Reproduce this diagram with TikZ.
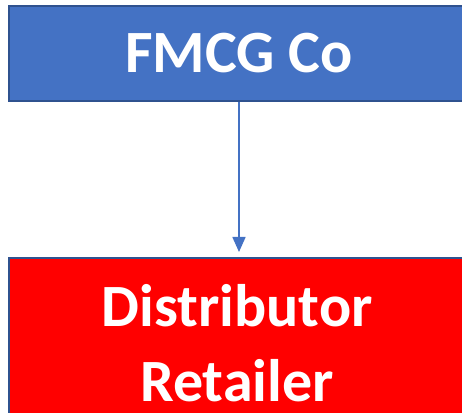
\documentclass[tikz,border=0pt]{standalone}
\usepackage{fontspec}
\setmainfont{Carlito}
\usepackage{tikz}
\usetikzlibrary{positioning, arrows.meta, calc}
\usepackage{xcolor}
\definecolor{cobl}{RGB}{68,114,196}
\definecolor{edgebl}{RGB}{47,82,143}
\definecolor{dstred}{RGB}{255,0,0}
\tikzset{
  CO/.style={draw=edgebl,fill=cobl,line width=2pt,rectangle,minimum width=460pt,minimum height=95pt,font=\fontsize{60}{75}\selectfont\bfseries\color{white},align=center,inner sep=0pt},
  DR/.style={draw=edgebl,fill=dstred,line width=2pt,rectangle,minimum width=460pt,minimum height=156pt,inner sep=0pt},
  TX/.style={font=\fontsize{60}{75}\selectfont\bfseries\color{white},align=center,inner sep=0pt},
  FL/.style={-{Triangle[length=15pt,width=13pt]},line width=1.6pt,cobl,shorten >=5pt},
}
\begin{document}
\begin{tikzpicture}[x=1pt,y=1pt]
\useasboundingbox (0,0) rectangle (462,412);

% boxes
\node[CO](fmcg) at (239,358.5){FMCG Co};
\node[DR](dist) at (239,76){};
\node[TX](distlbl) at (237,68.5){Distributor\\Retailer};

% flow
\draw[FL](fmcg.south)--(dist.north);

\end{tikzpicture}
\end{document}
